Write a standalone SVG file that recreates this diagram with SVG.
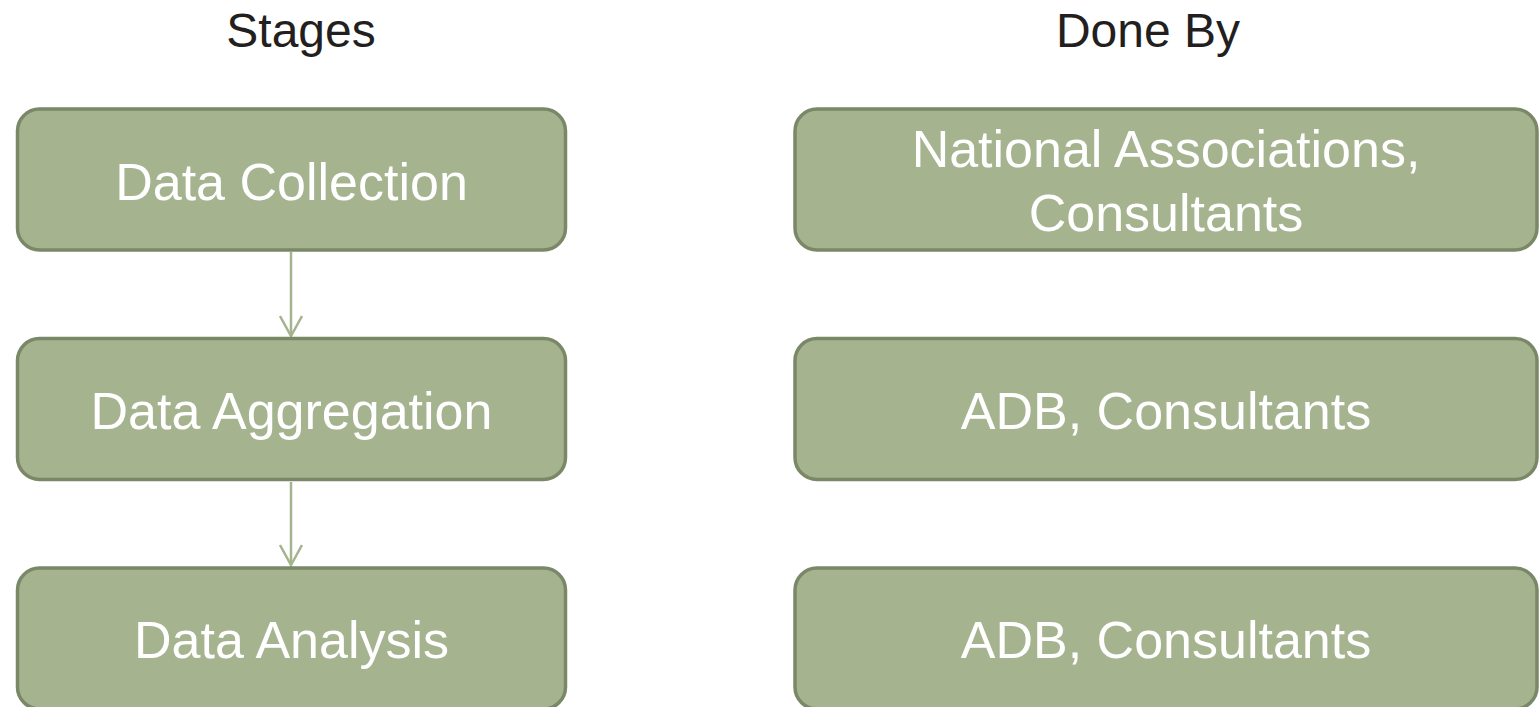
<svg xmlns="http://www.w3.org/2000/svg" width="1540" height="707" viewBox="0 0 1540 707">
<style>
.box{fill:#a5b38f;stroke:#7a8868;stroke-width:3.5}
.lbl{font-family:"Liberation Sans",Arial,sans-serif;font-size:52px;fill:#ffffff;text-anchor:middle}
.hdr{font-family:"Liberation Sans",Arial,sans-serif;font-size:48px;fill:#231f20;text-anchor:middle}
.conn{stroke:#a5b38f;stroke-width:2.5;fill:none}
</style>
<defs>
<marker id="arr" viewBox="0 0 24 24" refX="22" refY="12" markerWidth="24" markerHeight="24" markerUnits="userSpaceOnUse" orient="auto">
<path d="M2,1 L22,12 L2,23" fill="none" stroke="#a5b38f" stroke-width="2.5"/>
</marker>
</defs>
<rect width="1540" height="707" fill="#ffffff"/>
<g id="headers">
<text class="hdr" x="301" y="47">Stages</text>
<text class="hdr" x="1148" y="47">Done By</text>
</g>
<g id="connectors">
<line class="conn" x1="291" y1="252" x2="291" y2="336" marker-end="url(#arr)"/>
<line class="conn" x1="291" y1="482" x2="291" y2="565" marker-end="url(#arr)"/>
</g>
<g id="node-collection">
<rect class="box" x="17.5" y="109" width="548" height="141" rx="22"/>
<text class="lbl" x="291.5" y="200">Data Collection</text>
</g>
<g id="node-aggregation">
<rect class="box" x="17.5" y="338.5" width="548" height="141" rx="22"/>
<text class="lbl" x="291.5" y="429">Data Aggregation</text>
</g>
<g id="node-analysis">
<rect class="box" x="17.5" y="568" width="548" height="141" rx="22"/>
<text class="lbl" x="291.5" y="658">Data Analysis</text>
</g>
<g id="node-national">
<rect class="box" x="795" y="109" width="742" height="141" rx="22"/>
<text class="lbl" x="1166" y="167">National Associations,</text>
<text class="lbl" x="1166" y="231">Consultants</text>
</g>
<g id="node-adb1">
<rect class="box" x="795" y="338.5" width="742" height="141" rx="22"/>
<text class="lbl" x="1166" y="429">ADB, Consultants</text>
</g>
<g id="node-adb2">
<rect class="box" x="795" y="568" width="742" height="141" rx="22"/>
<text class="lbl" x="1166" y="658">ADB, Consultants</text>
</g>
</svg>
